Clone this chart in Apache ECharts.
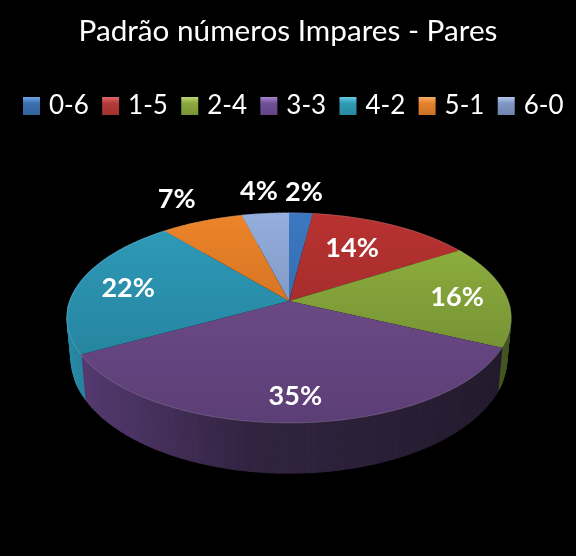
<!DOCTYPE html>
<html><head><meta charset="utf-8">
<style>html,body{margin:0;padding:0;background:#000}#c{width:576px;height:556px}</style>
<script src="https://cdn.jsdelivr.net/npm/echarts@6/dist/echarts.min.js"></script>
</head><body><div id="c"></div>
<script>
const titleText = 'Padrão números Impares - Pares';
const categories = ['0-6','1-5','2-4','3-3','4-2','5-1','6-0'];
const percents = [2,14,16,35,22,7,4];

// Styling, kept apart from the data
const topColors = [['#3c78c0','#2c5e9c'],['#b83230','#8e2829'],['#93b640','#66802e'],['#75508f','#5c3e76'],['#2f9cba','#217a94'],['#ec842a','#b9621b'],['#94aedd','#6880a5']];
const wallColors = [['#24497a','#1c3a60'],['#7a2221','#5f1b1a'],['#5f7a2a','#42541f'],['#563b72','#241b2e'],['#2a8ba6','#1f7690'],['#a85a18','#8a4a14'],['#64789c','#4c5c78']];
const legendColors = ['#3a6faf','#b33a38','#8aa83f','#6f4f96','#2f9ab5','#e5812b','#7f97c4'];
const legendGloss = ['#6fa5e6','#e0686a','#bcd66f','#a585cc','#63cbe6','#f8ae68','#b3c6ea'];
const labelPlace = [[1.31,0],[0.658,-3.8],[0.775,0],[0.8,0],[0.765,0],[1.35,0],[1.33,0]];

// Perspective disc layout: top rim and bottom rim of the cylinder
const cx = 289, persp = 0.162;
const topRim = {y:301, a:219, b:102.2};
const lowRim = {y:339.4, a:215, b:112};

function project(theta, r, rim) {
  const u = r * Math.sin(theta), v = -r * Math.cos(theta), d = 1 - persp * v;
  return [cx + rim.a * u / d, rim.y + rim.b * v / d];
}
function steps(a0, a1) {
  const n = Math.max(2, Math.ceil((a1 - a0) / (Math.PI / 120)));
  const out = [];
  for (let i = 0; i <= n; i++) out.push(a0 + (a1 - a0) * i / n);
  return out;
}
function arc(a0, a1, rim) {
  return steps(a0, a1).map(t => project(t, 1, rim));
}
const total = percents.reduce((a, b) => a + b, 0);
function angles(i) {
  let before = 0;
  for (let j = 0; j < i; j++) before += percents[j];
  const k = 2 * Math.PI / total;
  return [before * k, (before + percents[i]) * k];
}
function mix(a, b, t) {
  const p = s => [1,3,5].map(k => parseInt(s.substr(k,2),16));
  const A = p(a), B = p(b);
  return 'rgb(' + A.map((x,i) => Math.round(x + (B[i]-x)*t)).join(',') + ')';
}
function vGrad(c) {
  return {type:'linear',x:0,y:213,x2:0,y2:423,global:true,colorStops:[{offset:0,color:c[0]},{offset:1,color:c[1]}]};
}
function wallShade(c, t) {
  // quick fall-off over the first part of the wall, slower after it
  const s = t < 0.4 ? t / 0.4 * 0.72 : 0.72 + (t - 0.4) / 0.6 * 0.28;
  return mix(c[0], c[1], s);
}
function renderWall(params, api) {
  const i = params.dataIndex;
  api.value(0);
  const [a0, a1] = angles(i);
  const up = arc(a0, a1, topRim), low = arc(a0, a1, lowRim);
  const xs = up.concat(low).map(p => p[0]);
  const x0 = Math.min(...xs), x1 = Math.max(...xs);
  const children = [];
  for (let k = 0; k + 1 < up.length; k++) {
    const color = wallShade(wallColors[i], (low[k][0] - x0) / (x1 - x0));
    children.push({type:'polygon', shape:{points:[up[k], up[k+1], low[k+1], low[k]]},
      style:{fill:color, stroke:color, lineWidth:1.2}});
  }
  return {type:'group', children};
}
function renderTop(i) {
  return function (params, api) {
    const value = api.value(0);
    const [a0, a1] = angles(i);
    const rim = arc(a0, a1, topRim);
    const [lr, shift] = labelPlace[i];
    const p = project((a0 + a1) / 2 + shift * Math.PI / 180, lr, topRim);
    return {type:'group', children:[
      {type:'polygon', shape:{points:[[cx,topRim.y]].concat(rim)}, style:{fill:vGrad(topColors[i])}},
      {type:'polyline', shape:{points:rim}, style:{fill:null, stroke:'rgba(255,255,255,0.16)', lineWidth:1}},
      {type:'text', z2:10, x:p[0], y:p[1] + 1.5, style:{text:value + '%', fill:'#fff', font:'bold 27px Lato', textAlign:'center', textVerticalAlign:'middle'}}
    ]};
  };
}
const series = [{type:'custom', coordinateSystem:'none', z:2, silent:true, data:percents.map(v => [v]), renderItem:renderWall, animation:false}];
categories.forEach((name, i) => series.push({
  type:'custom', name, coordinateSystem:'none', z:3, silent:true,
  data:[[percents[i]]], renderItem:renderTop(i), animation:false, itemStyle:{color:legendColors[i]}
}));
const chart = echarts.init(document.getElementById('c'), null, {renderer:'canvas'});
chart.setOption({
  backgroundColor:'#000',
  animation:false,
  title:{text:titleText, left:'center', top:11, textStyle:{color:'#fff', fontFamily:'Lato', fontWeight:'normal', fontSize:29.7}},
  legend:{
    left:18, top:88, itemWidth:17, itemHeight:18, itemGap:13.3, icon:'rect', selectedMode:false,
    textStyle:{color:'#fff', fontFamily:'Lato', fontSize:26, padding:[0,0,0,4]},
    data:categories.map((name, i) => ({name, itemStyle:{color:{type:'linear',x:0,y:0,x2:0,y2:1,colorStops:[
      {offset:0,color:legendGloss[i]},{offset:0.36,color:legendColors[i]},{offset:1,color:mix(legendColors[i],'#000000',0.12)}]}}}))
  },
  series
});
</script></body></html>
